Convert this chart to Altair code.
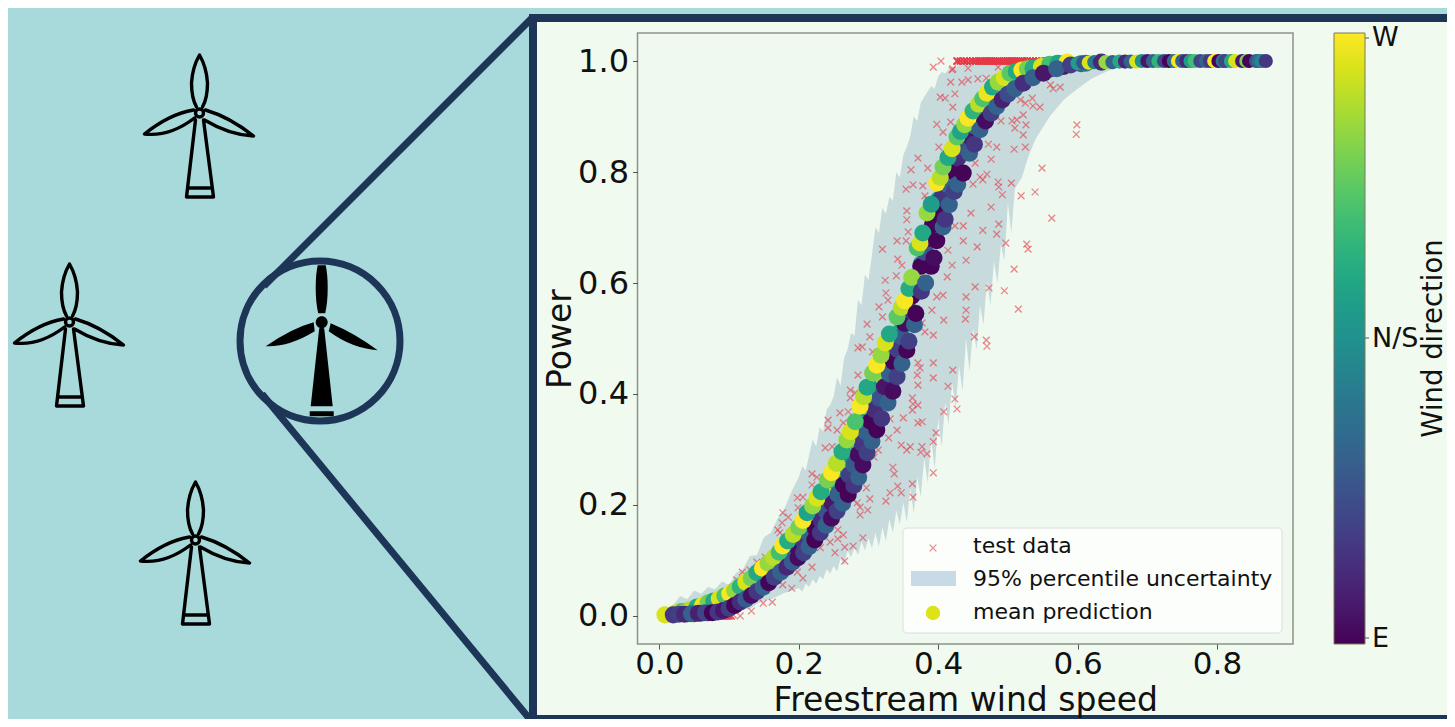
import altair as alt
import pandas as pd

W, H = 1439, 711
NAVY, TEAL, PANEL = "#1d3557", "#a8dadc", "#f1faee"
FONT = "DejaVu Sans"

# ---- chart values (data units) ----
test_x = [.393,.404,.429,.420,.418,.434,.424,.403,.410,.421,.398,.418,.407,.401,.371,.385,.361,.354,.364,.378,.381,.385,.355,.355,.357,.341,.354,.320,.342,.348,.324,.340,.325,.328,.315,.320,.298,.302,
 .436,.424,.436,.414,.440,.420,.413,.407,.398,.440,.440,.439,.408,.391,.377,.381,.393,
 .421,.443,.443,.457,.469,.486,.561,.575,.565,.535,.536,.546,.525,.518,.599,.598,.522,.513,.506,.490,.526,.510,.522,.472,.484,.509,.525,.476,.453,.549,.470,.460,.464,.450,.486,.505,.487,.492,.519,.539,.476,.447,.563,.487,.484,.464,.497,.456,.527,.529,.509,.453,.473,.495,.515,
 .452,.469,.470,.371,.374,.393,.421,.370,.393,.371,.414,.424,.427,.408,.363,.364,.371,.363,.331,.350,.371,.377,.341,.397,.393,.329,.347,.355,.360,.377,.375,.384,.335,.337,.393,.342,.363,.331,.347,.364,.325,
 .285,.291,.285,.306,.274,.281,.274,.259,.271,.242,.264,.242,.255,.238,.248,.219,.226,.219,.198,.206,.199,.177,.185,.176,.170,.173,.152,.140,.130,.119,.111,
 .314,.308,.297,.302,.284,.278,.288,.299,.288,.256,.264,.256,.292,.245,.266,.278,.252,.266,.231,.219,.206,.198,.177,.190,.162,.149,.132,.116,.106]
test_y = [.989,1.0,1.0,.984,.962,.962,.941,.935,.933,.917,.886,.890,.872,.845,.825,.807,.804,.769,.777,.775,.757,.750,.730,.714,.692,.676,.676,.661,.643,.632,.605,.613,.582,.569,.557,.539,.526,.503,
 .703,.703,.676,.659,.641,.632,.611,.578,.575,.575,.551,.535,.533,.551,.528,.512,.506,
 .986,.987,.966,.968,.969,.989,.957,.953,.950,.933,.919,.917,.924,.930,.885,.868,.903,.894,.892,.892,.885,.879,.867,.850,.845,.841,.845,.823,.816,.807,.796,.791,.786,.778,.782,.780,.773,.759,.757,.764,.737,.726,.717,.706,.688,.695,.672,.665,.670,.661,.625,.593,.591,.586,.553,
 .503,.497,.486,.456,.447,.456,.443,.434,.429,.416,.414,.391,.373,.368,.393,.382,.380,.371,.355,.357,.348,.350,.335,.330,.314,.321,.308,.299,.305,.305,.295,.292,.268,.256,.258,.234,.238,.222,.222,.214,.207,
 .483,.485,.434,.476,.407,.402,.393,.366,.368,.353,.348,.339,.335,.303,.305,.256,.250,.236,.213,.214,.195,.186,.178,.168,.155,.150,.106,.097,.083,.079,.065,
 .299,.286,.231,.211,.204,.209,.196,.191,.182,.155,.146,.139,.141,.133,.124,.126,.114,.099,.123,.088,.068,.079,.056,.050,.025,.023,.009,.000,.002]
sat_top_x = [.427,.432,.437,.441,.446,.450,.454,.458,.461,.464,.467,.470,.473,.476,.479,.482,.485,.488,.491,.494,.497,.500,.503,.506,.509,.512,.515,.518,.521,.524,.528,.532,.536,.540,.545,.550,.556,.562,.570,.578]
sat_low_x = [.058,.062,.066,.069,.072,.075,.078,.080,.082,.084,.086,.088,.090,.092,.094,.096,.098,.100,.103]

band_x = [.010,.020,.030,.040,.050,.060,.070,.080,.090,.100,.110,.120,.130,.140,.150,.160,.170,.180,.190,.200,.205,.210,.215,.220,.225,.230,.235,.240,.245,.250,.255,.260,.265,.270,.275,.280,.285,.290,.295,.300,.305,.310,.315,.320,.325,.330,.335,.340,.345,.350,.355,.360,.365,.370,.375,.380,.385,.390,.395,.400,.405,.410,.415,.420,.425,.430,.435,.440,.445,.450,.455,.460,.465,.470,.475,.480,.485,.490,.495,.500,.505,.510,.520,.530,.540,.550,.560,.570,.580,.600,.620,.640,.660,.680,.870]
band_up = [.006,.020,.036,.030,.046,.040,.052,.048,.062,.056,.078,.084,.108,.110,.142,.150,.176,.195,.225,.250,.270,.262,.290,.318,.305,.340,.332,.372,.380,.395,.430,.415,.465,.480,.510,.505,.570,.560,.615,.605,.650,.700,.690,.735,.725,.755,.748,.800,.790,.830,.845,.865,.900,.892,.925,.935,.945,.955,.950,.972,.980,.978,.985,.990,.988,.993,.992,.995,.994,.996,.996,.998,.998,.999,.999,.999,.999,1.0,1.0,1.0,1.0,1.0,1.0,1.0,1.0,1.0,1.0,1.0,1.0,1.0,1.0,1.0,1.0,1.0,1.0]
band_lo = [.000,.000,.000,.001,.000,.001,.001,.002,.003,.004,.008,.012,.012,.022,.028,.030,.036,.042,.046,.050,.044,.058,.052,.066,.058,.072,.066,.084,.076,.090,.080,.104,.092,.118,.106,.124,.110,.134,.118,.140,.122,.150,.125,.160,.135,.175,.150,.190,.165,.205,.170,.230,.185,.250,.215,.285,.240,.320,.265,.355,.305,.385,.345,.420,.375,.450,.405,.500,.440,.520,.480,.560,.525,.605,.560,.640,.600,.670,.640,.745,.690,.770,.790,.830,.860,.880,.900,.915,.930,.950,.968,.980,.990,.996,1.0]

west_x = [.008,.024,.034,.044,.054,.062,.070,.078,.086,.094,.101,.108,.116,.124,.132,.140,.148,.156,.164,.172,.177,.184,.192,.200,.206,.212,.220,.226,.232,.241,.247,.254,.262,.269,.274,.281,.288,.293,.298,.306,.312,.318,.324,.330,.341,.347,.352,.358,.362,.370,.374,.378,.384,.390,.398,.403,.407,.414,.420,.427,.432,.438,.443,.450,.458,.464,.470,.478,.486,.495,.503,.512,.520,.528,.536,.548,.560,.572,.585]
west_y = [.002,.006,.008,.011,.016,.019,.024,.027,.031,.036,.040,.046,.053,.061,.068,.078,.086,.095,.105,.115,.126,.135,.147,.160,.172,.186,.198,.212,.224,.245,.258,.275,.296,.317,.332,.350,.378,.395,.412,.438,.452,.470,.492,.508,.539,.556,.568,.590,.610,.663,.672,.690,.726,.742,.780,.790,.809,.826,.842,.863,.873,.885,.897,.910,.922,.932,.942,.953,.962,.970,.978,.981,.984,.986,.987,.990,.994,.996,.998]
west_w = [.95,.92,.75,.90,.62,.98,.80,.60,.95,.72,1.0,.85,.65,.95,.80,.60,1.0,.85,.90,.70,1.0,.62,.90,.80,1.0,.58,.85,.95,.62,.80,1.0,.90,.62,.85,.95,.72,1.0,.90,.60,.80,1.0,.85,.95,.60,.75,.90,1.0,.62,.85,.72,.95,.60,.85,.55,1.0,.90,.80,.60,.95,.75,.58,.85,1.0,.65,.90,.72,.98,.60,.85,.95,.75,.60,1.0,.80,.62,.95,.70,.58,1.0]

inner_w_x = [.030,.040,.050,.058,.066,.074,.082,.090,.098,.105,.112,.120,.128,.136,.144,.152,.160,.168,.176,.181,.188,.196,.204,.210,.216,.224,.230,.238,.245,.252,.259,.266,.273,.279,.285,.291,.297,.303,.309,.315,.321,.327,.334,.341,.347,.353,.358,.364,.370,.376,.381,.387,.393,.400,.406,.412,.418,.425,.431,.438,.445,.452,.460,.468,.476,.485,.495,.505,.515,.525,.540,.555,.570]
inner_w_y = [.007,.009,.013,.016,.020,.024,.027,.032,.036,.041,.047,.055,.062,.070,.078,.087,.096,.105,.116,.124,.133,.144,.156,.166,.176,.190,.202,.216,.229,.243,.258,.274,.290,.305,.322,.338,.356,.374,.392,.410,.430,.450,.473,.495,.515,.535,.555,.580,.605,.635,.660,.690,.720,.750,.775,.795,.815,.840,.858,.876,.890,.904,.918,.930,.942,.953,.963,.972,.978,.983,.988,.992,.995]
inner_w_w = [.45,.55,.70,.62,.85,.50,.75,.60,.90,.55,.65,.80,.50,.70,.95,.55,.85,.62,.75,.50,.90,.60,.70,.55,.85,.62,.50,.75,.95,.55,.65,.85,.50,.70,.60,.90,.55,.75,.62,.50,.85,.65,.55,.90,.60,.50,.75,.55,.85,.60,.50,.70,.55,.62,.50,.75,.55,.60,.50,.70,.55,.85,.50,.62,.75,.50,.55,.65,.45,.85,.50,.60,.45]

inner_e_x = [.040,.050,.060,.070,.080,.088,.096,.104,.112,.120,.128,.136,.144,.152,.160,.168,.176,.184,.192,.200,.208,.216,.224,.232,.240,.248,.256,.264,.272,.279,.285,.291,.297,.303,.309,.316,.323,.330,.336,.342,.347,.352,.357,.362,.368,.375,.381,.386,.392,.398,.404,.412,.420,.428,.436,.444,.452,.460,.470,.480,.490,.500,.512,.526,.540,.560,.580,.605]
inner_e_y = [.004,.004,.005,.006,.007,.009,.012,.017,.023,.029,.036,.043,.051,.059,.068,.078,.088,.098,.108,.119,.131,.144,.158,.172,.187,.203,.219,.236,.254,.272,.291,.311,.331,.351,.371,.392,.413,.436,.458,.480,.503,.527,.552,.576,.600,.630,.655,.680,.705,.730,.752,.778,.802,.825,.845,.865,.883,.899,.915,.928,.940,.950,.960,.970,.978,.985,.990,.995]
inner_e_w = [.00,.12,.25,.05,.30,.00,.18,.28,.02,.15,.30,.00,.12,.25,.05,.30,.00,.18,.28,.02,.15,.30,.00,.12,.25,.05,.30,.00,.18,.28,.02,.15,.30,.00,.12,.25,.05,.30,.00,.18,.28,.02,.15,.00,.12,.00,.25,.05,.00,.00,.15,.30,.00,.12,.25,.05,.30,.00,.18,.28,.02,.15,.30,.00,.12,.25,.05,.30]

east_x = [.020,.028,.036,.046,.056,.066,.076,.084,.092,.100,.108,.116,.124,.132,.140,.149,.157,.165,.174,.183,.191,.199,.207,.215,.223,.231,.239,.247,.255,.263,.271,.279,.286,.292,.298,.305,.312,.319,.328,.335,.341,.348,.355,.358,.366,.368,.376,.382,.390,.394,.398,.407,.410,.416,.423,.428,.436,.445,.452,.460,.468,.476,.484,.492,.500,.510,.522,.536,.551,.570,.590,.612,.634]
east_y = [.002,.003,.003,.004,.005,.006,.006,.007,.010,.014,.019,.025,.030,.037,.044,.052,.060,.070,.079,.088,.097,.105,.114,.125,.137,.150,.163,.176,.189,.203,.219,.235,.250,.272,.294,.315,.335,.356,.384,.405,.431,.455,.479,.495,.525,.545,.585,.600,.630,.645,.676,.701,.715,.741,.765,.778,.798,.834,.850,.876,.892,.906,.918,.930,.940,.950,.960,.970,.978,.986,.993,.996,.998]
east_w = [.15,.18,.10,.30,.08,.20,.00,.15,.05,.18,.00,.12,.28,.03,.15,.30,.00,.18,.30,.10,.28,.02,.18,.30,.00,.15,.30,.02,.18,.30,.00,.15,.30,.02,.18,.30,.00,.15,.30,.02,.18,.30,.00,.18,.30,.00,.15,.30,.00,.02,.00,.30,.15,.30,.18,.30,.00,.30,.15,.30,.02,.18,.30,.08,.22,.30,.12,.30,.05,.30,.18,.40,.12]

tail_x = [.600,.608,.616,.624,.632,.640,.650,.660,.668,.676,.684,.692,.700,.708,.716,.724,.731,.738,.744,.750,.756,.762,.768,.776,.784,.790,.796,.802,.808,.812,.820,.826,.836,.842,.846,.856,.860,.864,.870]
tail_y = [.996,.997,.997,.998,.998,.998,.998,.999,.999,.999,.999,1.0,1.0,1.0,1.0,1.0,1.0,1.0,1.0,1.0,1.0,1.0,1.0,1.0,1.0,1.0,1.0,1.0,1.0,1.0,1.0,1.0,1.0,1.0,1.0,1.0,1.0,1.0,1.0]
tail_w = [.55,.25,.95,.40,.10,.85,.3,.6,.1,.3,.95,.5,.05,.3,.65,.2,.0,.35,1.0,.3,.1,.55,.7,.2,.3,.15,1.0,.0,.35,.2,.6,.95,.05,.8,.0,.25,.35,.45,.15]

x_ticks = [0, .2, .4, .6, .8]
y_ticks = [0, .2, .4, .6, .8, 1.0]

# ---- pictorial parts, placed on the picture's own pixel grid ----
OUTLINE_TURBINE = ("M-3,-6Q-8,-15 -8,-30Q-7,-46 0,-58Q7,-46 8,-30Q8,-15 3,-6"
                   "M-6,-3Q-30,1 -55,21Q-30,24 -5,5"
                   "M6,-3Q30,4 54,23Q30,22 5,7"
                   "M-4,7L-13,84L14,84L4,7M-11,75L12,75"
                   "M4,0A4,4 0 1 1 -4,0A4,4 0 1 1 4,0")
SOLID_TURBINE = ("M-3.5,-9Q-6,-20 -6,-34Q-6,-48 -4,-57L4,-57Q6,-48 6,-34Q6,-20 3.5,-9Z"
                 "M-8,0Q-30,6 -56,24Q-33,25 -7,9Z"
                 "M9,1Q33,11 56,28Q30,26 7,9Z"
                 "M-2.5,6L-11,84L11,84L2.5,6Z"
                 "M-12,89L12,89L12,94L-12,94Z"
                 "M6,0A6,6 0 1 1 -6,0A6,6 0 1 1 6,0Z")
CROSS = "M-1,-1L1,1M-1,1L1,-1"

px = dict(scale=alt.Scale(domain=[8, 8 + W], range=[0, W], nice=False, zero=False), axis=None)
py = dict(scale=alt.Scale(domain=[8, 8 + H], range=[0, H], nice=False, zero=False), axis=None)
X = lambda f="x": alt.X(f"{f}:Q", **px)
Y = lambda f="y": alt.Y(f"{f}:Q", **py)
dx = dict(scale=alt.Scale(domain=[-0.0313, 0.909], range=[629.5, 1285], nice=False, zero=False))
dy = dict(scale=alt.Scale(domain=[-0.0505, 1.0505], range=[636, 25], nice=False, zero=False))
DX = alt.X("x:Q", axis=None, **dx)
DY = alt.Y("y:Q", axis=None, **dy)


def box(x0, y0, x1, y1, **kw):
    d = pd.DataFrame({"x": [x0], "x2": [x1], "y": [y0], "y2": [y1]})
    return alt.Chart(d).mark_rect(**kw).encode(X(), x2="x2:Q", y=Y(), y2="y2:Q")


def seg(x0, y0, x1, y1, **kw):
    d = pd.DataFrame({"x": [x0, x1], "y": [y0, y1]})
    return alt.Chart(d).mark_line(**kw).encode(X(), Y())


def sym(x, y, **kw):
    d = pd.DataFrame({"x": x, "y": y})
    return alt.Chart(d).mark_point(**kw).encode(X(), Y())


def txt(x, y, s, **kw):
    d = pd.DataFrame({"x": [x], "y": [y], "t": [s]})
    return alt.Chart(d).mark_text(font=FONT, color="#111", **kw).encode(X(), Y(), text="t:N")


RIGHT, BOTTOM = 8 + W, 8 + H

bg = [
    box(8, 8, RIGHT, BOTTOM, color=TEAL),
    seg(264, 286, 533, 17, color=NAVY, strokeWidth=7),
    seg(262, 394, 533, 723, color=NAVY, strokeWidth=7),
    box(529, 14, RIGHT, BOTTOM, color=NAVY),
    box(537, 22, RIGHT, BOTTOM - 4, color=PANEL),
    box(637.5, 33, 1293, 644, color="#eff9ef", stroke="#8c9488", strokeWidth=1.5),
    sym([199.5, 69.5, 195.5], [113, 322, 540], shape=OUTLINE_TURBINE, size=4, filled=False,
        stroke="black", strokeWidth=3.4, strokeJoin="round", strokeCap="round", opacity=1),
    sym([320], [341], shape="circle", size=25600, filled=False, stroke=NAVY, strokeWidth=7, opacity=1),
    sym([321.7], [322.3], shape=SOLID_TURBINE, size=4, filled=True, fill="black", stroke=None, opacity=1),
]

band = alt.Chart(pd.DataFrame({"x": band_x, "u": band_up, "l": band_lo})).mark_area(
    color="#457b9d", opacity=0.24, interpolate="linear"
).encode(
    alt.X("x:Q", **dx,
          axis=alt.Axis(values=x_ticks, format=".1f", title="Freestream wind speed", offset=636 - H, zindex=1,
                        grid=False, domain=False, tickColor="#555", tickSize=5, labelFont=FONT, labelFontSize=31,
                        labelColor="#111", labelPadding=0, labelFontWeight="normal", titleFont=FONT,
                        titleFontSize=33, titleFontWeight="normal", titleColor="#111", titlePadding=5)),
    alt.Y("u:Q", **dy,
          axis=alt.Axis(values=y_ticks, format=".1f", title="Power", offset=-629.5, zindex=1,
                        grid=False, domain=False, tickColor="#555", tickSize=5, labelFont=FONT, labelFontSize=32,
                        labelColor="#111", labelPadding=4, titleFont=FONT, titleFontSize=33,
                        titleFontWeight="normal", titleColor="#111", titlePadding=0)),
    y2="l:Q",
)

tx = test_x + sat_top_x * 5 + sat_low_x * 3
ty = test_y + [1.0] * (5 * len(sat_top_x)) + [0.0] * (3 * len(sat_low_x))
crosses = alt.Chart(pd.DataFrame({"x": tx, "y": ty})).mark_point(
    shape=CROSS, size=46, filled=False, stroke="#e63946", strokeWidth=1.3, opacity=0.6
).encode(DX, DY)

mean = pd.DataFrame({
    "x": inner_w_x + inner_e_x + west_x + east_x + tail_x,
    "y": inner_w_y + inner_e_y + west_y + east_y + tail_y,
    "w": inner_w_w + inner_e_w + west_w + east_w + tail_w,
    "s": [290] * (len(west_x) + len(inner_w_x) + len(inner_e_x) + len(east_x)) + [200] * len(tail_x),
})
mean["o"] = range(len(mean))
dots = alt.Chart(mean).mark_circle(opacity=1).encode(
    DX, DY,
    alt.Order("o:Q"),
    alt.Size("s:Q", scale=None, legend=None),
    alt.Color("w:Q", scale=alt.Scale(scheme="viridis", domain=[-0.008, 1.008], nice=False, zero=False),
              legend=alt.Legend(orient="none", legendX=1326, legendY=25, direction="vertical", title=None,
                                gradientLength=611, gradientThickness=31, values=[0, .5, 1],
                                labelExpr="datum.value==0?'E':datum.value==1?'W':'N/S'",
                                labelFont=FONT, labelFontSize=27, labelColor="#111", labelOffset=7,
                                gradientStrokeColor="#7a7a5a", gradientStrokeWidth=1, padding=0)),
)

front = [
    box(903, 528, 1282, 633, fill="white", fillOpacity=0.8, stroke="#dcdcdc", strokeWidth=1, cornerRadius=4),
    sym([933], [548], shape=CROSS, size=46, filled=False, stroke="#e63946", strokeWidth=1.3, opacity=0.6),
    box(911, 571, 956, 586, color="#c7dae6"),
    sym([933], [613], shape="circle", size=210, filled=True, fill="#dde318", stroke=None, opacity=1),
    txt(973, 546, "test data", align="left", baseline="middle", fontSize=22),
    txt(973, 579, "95% percentile uncertainty", align="left", baseline="middle", fontSize=22),
    txt(973, 612, "mean prediction", align="left", baseline="middle", fontSize=22),
    txt(1434, 338.5, "Wind direction", align="center", baseline="middle", fontSize=27.5, angle=270),
    seg(1365, 38, 1369, 38, color="#555", strokeWidth=1),
    seg(1365, 338, 1369, 338, color="#555", strokeWidth=1),
    seg(1365, 638, 1369, 638, color="#555", strokeWidth=1),
]

chart = alt.layer(*bg, band, crosses, dots, *front).resolve_scale(
    x="independent", y="independent", color="independent"
).properties(
    width=W, height=H, padding=0, background=TEAL,
    autosize=alt.AutoSizeParams(type="none"),
).configure_view(stroke=None)

chart.save("out.html", embed_options={"renderer": "svg", "actions": False})
